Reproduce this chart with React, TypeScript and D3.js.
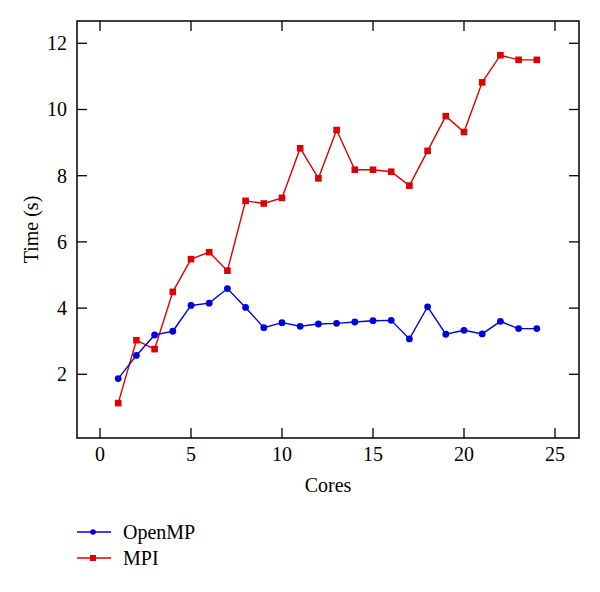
import React from 'react';
import * as d3 from 'd3';

// cores on the x axis
const cores = [1, 2, 3, 4, 5, 6, 7, 8, 9, 10, 11, 12, 13, 14, 15, 16, 17, 18, 19, 20, 21, 22, 23, 24];
const openmp = [1.87, 2.57, 3.19, 3.30, 4.08, 4.15, 4.59, 4.02, 3.41, 3.56, 3.45, 3.52, 3.54, 3.58, 3.62, 3.63, 3.07, 4.04, 3.21, 3.33, 3.22, 3.60, 3.38, 3.38];
const mpi = [1.13, 3.03, 2.76, 4.49, 5.48, 5.69, 5.13, 7.24, 7.16, 7.33, 8.83, 7.92, 9.38, 8.18, 8.18, 8.12, 7.70, 8.75, 9.80, 9.32, 10.82, 11.64, 11.50, 11.50];
const xTicks = [0, 5, 10, 15, 20, 25];
const yTicks = [2, 4, 6, 8, 10, 12];

const BLUE = '#0000dd';
const RED = '#dd0000';
const FONT = '"Liberation Serif", "Times New Roman", serif';

export default function App() {
  const width = 600, height = 592;
  const left = 77, right = 579, top = 21, bottom = 438;
  const x = d3.scaleLinear().domain([0, 25]).range([100, 555]);
  const y = d3.scaleLinear().domain([2, 12]).range([374.3, 43.3]);
  const tick = 10;

  const line = d3.line<number>()
    .x((d, i) => x(cores[i]))
    .y(d => y(d));

  return (
    <svg width={width} height={height} style={{position: 'absolute', left: 0, top: 0, background: '#fff'}}
      fontFamily={FONT}>
      <rect x={left} y={top} width={right - left} height={bottom - top} fill="none" stroke="#000" strokeWidth={1.5}/>
      {xTicks.map(t => (
        <g key={'x' + t}>
          <line x1={x(t)} x2={x(t)} y1={bottom} y2={bottom - tick} stroke="#000" strokeWidth={1.3}/>
          <line x1={x(t)} x2={x(t)} y1={top} y2={top + tick} stroke="#000" strokeWidth={1.3}/>
          <text x={x(t)} y={461} textAnchor="middle" fontSize={20}>{t}</text>
        </g>
      ))}
      {yTicks.map(t => (
        <g key={'y' + t}>
          <line x1={left} x2={left + tick} y1={y(t)} y2={y(t)} stroke="#000" strokeWidth={1.3}/>
          <line x1={right} x2={right - tick} y1={y(t)} y2={y(t)} stroke="#000" strokeWidth={1.3}/>
          <text x={67} y={y(t)} dy="0.34em" textAnchor="end" fontSize={20}>{t}</text>
        </g>
      ))}
      <text x={(left + right) / 2} y={492} textAnchor="middle" fontSize={20}>Cores</text>
      <text transform={`translate(38,${(top + bottom) / 2}) rotate(-90)`} textAnchor="middle" fontSize={20}>Time (s)</text>

      <path d={line(mpi) || ''} fill="none" stroke={RED} strokeWidth={1.4}/>
      {mpi.map((v, i) => (
        <rect key={'m' + i} x={x(cores[i]) - 3.3} y={y(v) - 3.3} width={6.6} height={6.6} fill={RED}/>
      ))}
      <path d={line(openmp) || ''} fill="none" stroke={BLUE} strokeWidth={1.4}/>
      {openmp.map((v, i) => (
        <circle key={'o' + i} cx={x(cores[i])} cy={y(v)} r={3.4} fill={BLUE}/>
      ))}

      <g>
        <line x1={77} x2={111} y1={532} y2={532} stroke={BLUE} strokeWidth={1.4}/>
        <circle cx={93} cy={532} r={2.8} fill={BLUE}/>
        <text x={123} y={532} dy="0.34em" fontSize={20}>OpenMP</text>
        <line x1={77} x2={111} y1={558} y2={558} stroke={RED} strokeWidth={1.4}/>
        <rect x={90} y={555} width={6} height={6} fill={RED}/>
        <text x={123} y={558} dy="0.34em" fontSize={20}>MPI</text>
      </g>
    </svg>
  );
}
